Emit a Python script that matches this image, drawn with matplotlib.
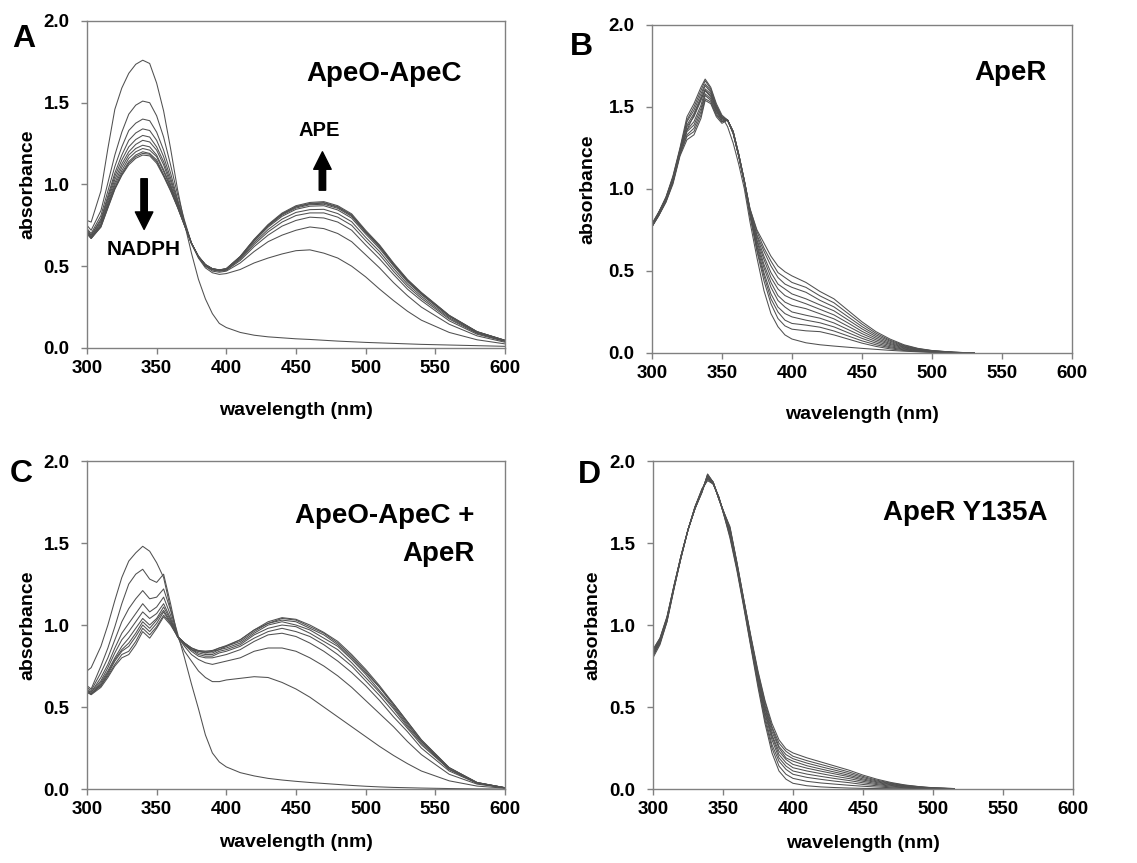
import matplotlib
matplotlib.use('Agg')
import matplotlib.pyplot as plt

plt.rcParams['font.family'] = ['Liberation Sans', 'DejaVu Sans']
plt.rcParams['font.weight'] = 'bold'

# ---- panel A: ApeO-ApeC ----
wl_a = [300, 303, 310, 315, 320, 325, 330, 335, 340, 345, 350, 355, 360,
        365, 370, 375, 380, 385, 390, 395, 400, 410, 420, 430, 440, 450,
        460, 470, 480, 490, 500, 510, 520, 530, 540, 560, 580, 600]
a_spectra = [
    [.78, .77, .96, 1.22, 1.46, 1.59, 1.68, 1.735, 1.76, 1.74, 1.62, 1.45, 1.22,
     .97, .76, .58, .42, .30, .21, .15, .125, .095, .078, .068, .062, .056,
     .052, .047, .042, .038, .034, .031, .028, .025, .022, .018, .014, .01],
    [.75, .72, .84, 1.01, 1.18, 1.32, 1.43, 1.485, 1.51, 1.50, 1.42, 1.29, 1.12,
     .94, .78, .64, .55, .49, .46, .45, .455, .48, .52, .55, .575, .595,
     .60, .58, .55, .50, .435, .36, .29, .225, .17, .095, .05, .025],
    [.73, .70, .81, .96, 1.11, 1.23, 1.33, 1.375, 1.40, 1.39, 1.32, 1.21, 1.07,
     .91, .77, .64, .555, .50, .47, .463, .47, .52, .59, .65, .69, .72,
     .74, .73, .70, .65, .57, .49, .40, .32, .25, .145, .074, .035],
    [.72, .69, .79, .93, 1.07, 1.18, 1.27, 1.315, 1.34, 1.33, 1.27, 1.17, 1.04,
     .90, .76, .64, .557, .50, .477, .469, .475, .535, .62, .69, .745, .78,
     .80, .795, .77, .72, .63, .545, .45, .36, .29, .166, .084, .040],
    [.72, .69, .78, .915, 1.05, 1.15, 1.23, 1.275, 1.30, 1.29, 1.23, 1.14, 1.02,
     .89, .76, .64, .558, .506, .48, .472, .478, .542, .633, .71, .77, .81,
     .826, .826, .80, .75, .657, .571, .469, .377, .303, .177, .089, .042],
    [.71, .68, .77, .90, 1.03, 1.125, 1.20, 1.245, 1.27, 1.26, 1.21, 1.12, 1.00,
     .88, .76, .64, .559, .507, .481, .474, .48, .548, .643, .724, .788, .829,
     .846, .848, .822, .772, .677, .59, .486, .391, .315, .184, .093, .044],
    [.71, .68, .76, .885, 1.01, 1.105, 1.18, 1.22, 1.24, 1.23, 1.18, 1.09, .99,
     .87, .755, .64, .559, .508, .483, .476, .483, .554, .653, .739, .805, .848,
     .867, .87, .844, .794, .697, .608, .502, .404, .326, .192, .096, .045],
    [.705, .675, .75, .875, .995, 1.085, 1.16, 1.20, 1.22, 1.21, 1.17, 1.08, .98,
     .87, .75, .64, .56, .509, .484, .477, .484, .556, .658, .745, .813, .856,
     .876, .879, .854, .804, .706, .617, .509, .41, .332, .195, .098, .046],
    [.70, .67, .75, .865, .98, 1.07, 1.14, 1.18, 1.20, 1.19, 1.15, 1.06, .97,
     .865, .75, .64, .56, .509, .484, .477, .484, .558, .661, .749, .818, .862,
     .881, .886, .86, .81, .711, .622, .513, .414, .335, .197, .099, .046],
    [.70, .67, .74, .86, .975, 1.06, 1.13, 1.17, 1.19, 1.185, 1.14, 1.055, .965,
     .86, .75, .64, .56, .51, .485, .477, .484, .559, .662, .751, .82, .865,
     .884, .889, .864, .814, .714, .625, .515, .416, .337, .198, .099, .047],
    [.70, .67, .74, .855, .97, 1.055, 1.12, 1.16, 1.18, 1.175, 1.13, 1.05, .96,
     .86, .75, .64, .56, .51, .485, .478, .485, .56, .665, .755, .825, .87,
     .89, .895, .87, .82, .72, .63, .52, .42, .34, .20, .10, .047],
]

# ---- panel B: ApeR ----
wl_b = [300, 305, 310, 315, 320, 325, 330, 335, 338, 342, 346, 350, 354,
        358, 362, 366, 370, 375, 380, 385, 390, 395, 400, 410, 420, 430,
        440, 450, 460, 470, 480, 490, 500, 515, 530]
b_spectra = [
    [.79, .86, .94, 1.07, 1.22, 1.36, 1.45, 1.55, 1.60, 1.57, 1.50, 1.44, 1.38,
     1.28, 1.15, 1.00, .80, .58, .38, .24, .16, .11, .085, .062, .05, .042,
     .035, .028, .022, .016, .011, .007, .004, .002, 0],
    [.77, .84, .92, 1.03, 1.20, 1.30, 1.33, 1.43, 1.54, 1.52, 1.44, 1.40, 1.42,
     1.34, 1.20, 1.04, .84, .62, .44, .30, .21, .165, .145, .135, .13, .11,
     .085, .06, .04, .025, .015, .009, .005, .002, 0],
    [.77, .84, .92, 1.04, 1.21, 1.32, 1.35, 1.45, 1.55, 1.53, 1.45, 1.41, 1.42,
     1.34, 1.20, 1.04, .84, .63, .47, .33, .25, .20, .18, .17, .157, .134,
     .104, .074, .05, .032, .019, .011, .006, .002, 0],
    [.77, .84, .93, 1.04, 1.21, 1.33, 1.37, 1.47, 1.57, 1.54, 1.46, 1.41, 1.42,
     1.34, 1.20, 1.04, .85, .65, .49, .36, .28, .24, .22, .20, .184, .159,
     .124, .089, .06, .038, .023, .013, .007, .003, 0],
    [.77, .85, .93, 1.05, 1.22, 1.35, 1.39, 1.49, 1.58, 1.55, 1.47, 1.42, 1.42,
     1.34, 1.20, 1.04, .85, .66, .52, .40, .32, .28, .25, .23, .212, .183,
     .143, .103, .07, .045, .027, .015, .008, .003, 0],
    [.77, .85, .93, 1.05, 1.22, 1.36, 1.41, 1.51, 1.60, 1.56, 1.48, 1.42, 1.42,
     1.34, 1.20, 1.04, .86, .68, .54, .43, .35, .31, .29, .27, .239, .208,
     .163, .118, .08, .052, .031, .017, .009, .003, 0],
    [.78, .85, .94, 1.06, 1.23, 1.38, 1.44, 1.54, 1.61, 1.58, 1.48, 1.43, 1.42,
     1.35, 1.21, 1.05, .86, .69, .57, .46, .39, .35, .33, .30, .266, .232,
     .183, .132, .09, .058, .035, .02, .011, .003, 0],
    [.78, .85, .94, 1.06, 1.23, 1.39, 1.46, 1.56, 1.63, 1.59, 1.49, 1.43, 1.42,
     1.35, 1.21, 1.05, .87, .71, .59, .49, .42, .39, .36, .33, .293, .257,
     .202, .147, .10, .065, .038, .022, .012, .004, 0],
    [.78, .86, .94, 1.07, 1.24, 1.41, 1.48, 1.58, 1.64, 1.60, 1.50, 1.44, 1.42,
     1.35, 1.21, 1.05, .87, .72, .62, .53, .46, .42, .40, .37, .321, .281,
     .221, .161, .11, .072, .042, .024, .013, .004, 0],
    [.78, .86, .95, 1.07, 1.24, 1.42, 1.50, 1.60, 1.66, 1.61, 1.51, 1.44, 1.42,
     1.35, 1.21, 1.05, .88, .74, .64, .56, .49, .46, .43, .40, .348, .306,
     .241, .176, .12, .078, .046, .026, .014, .005, 0],
    [.78, .86, .95, 1.08, 1.25, 1.44, 1.52, 1.62, 1.67, 1.62, 1.52, 1.45, 1.42,
     1.35, 1.21, 1.05, .88, .75, .67, .59, .53, .495, .47, .43, .375, .33,
     .26, .19, .13, .085, .05, .028, .015, .005, 0],
]

# ---- panel C: ApeO-ApeC + ApeR ----
wl_c = [300, 303, 310, 315, 320, 325, 330, 335, 340, 345, 350, 355, 360,
        365, 370, 375, 380, 385, 390, 395, 400, 410, 420, 430, 440, 450,
        460, 470, 480, 490, 500, 510, 520, 530, 540, 560, 580, 600]
c_spectra = [
    [.72, .74, .87, 1.00, 1.15, 1.29, 1.39, 1.44, 1.48, 1.45, 1.38, 1.29, 1.10,
     .95, .80, .64, .49, .33, .22, .165, .135, .10, .08, .065, .055, .047,
     .04, .034, .028, .022, .017, .013, .01, .008, .006, .003, .001, 0],
    [.63, .61, .75, .86, .99, 1.13, 1.25, 1.31, 1.34, 1.28, 1.26, 1.31, 1.13,
     .93, .84, .78, .72, .68, .655, .655, .665, .675, .685, .68, .65, .61,
     .56, .50, .44, .38, .32, .26, .205, .155, .11, .05, .018, .005],
    [.62, .60, .71, .80, .91, 1.02, 1.10, 1.16, 1.21, 1.16, 1.17, 1.22, 1.09,
     .93, .87, .82, .79, .77, .76, .77, .78, .80, .84, .86, .86, .84,
     .80, .75, .69, .62, .54, .46, .38, .29, .21, .09, .03, .007],
    [.61, .59, .68, .76, .86, .95, 1.01, 1.07, 1.13, 1.08, 1.11, 1.17, 1.06,
     .93, .88, .84, .81, .80, .80, .81, .82, .85, .90, .94, .95, .93,
     .89, .84, .78, .71, .63, .54, .44, .35, .25, .11, .035, .007],
    [.60, .59, .66, .74, .83, .91, .96, 1.02, 1.08, 1.04, 1.07, 1.13, 1.04,
     .93, .88, .85, .82, .81, .81, .83, .84, .87, .92, .96, .98, .96,
     .93, .88, .82, .75, .66, .57, .47, .37, .27, .12, .036, .007],
    [.60, .58, .65, .72, .80, .87, .92, .98, 1.04, 1.00, 1.04, 1.11, 1.03,
     .93, .89, .85, .83, .82, .82, .84, .85, .88, .94, .98, 1.00, .99,
     .95, .90, .85, .77, .68, .59, .49, .38, .28, .12, .038, .008],
    [.60, .58, .64, .71, .79, .85, .89, .95, 1.02, .98, 1.03, 1.09, 1.02,
     .93, .89, .85, .84, .83, .83, .85, .86, .89, .95, 1.00, 1.02, 1.00,
     .97, .92, .87, .79, .70, .60, .50, .39, .29, .12, .038, .008],
    [.59, .58, .63, .70, .78, .84, .87, .93, 1.00, .96, 1.01, 1.08, 1.01,
     .93, .89, .86, .84, .83, .84, .85, .87, .90, .96, 1.01, 1.03, 1.02,
     .98, .94, .88, .80, .71, .62, .51, .40, .29, .13, .039, .008],
    [.59, .58, .63, .69, .76, .82, .84, .90, .98, .94, .99, 1.06, 1.01,
     .93, .89, .86, .84, .84, .84, .86, .87, .91, .97, 1.01, 1.04, 1.03,
     .99, .95, .89, .81, .72, .62, .52, .41, .30, .13, .040, .008],
    [.59, .575, .62, .68, .75, .80, .82, .88, .96, .92, .98, 1.05, 1.00,
     .93, .89, .86, .845, .84, .845, .86, .875, .91, .97, 1.02, 1.045, 1.035,
     1.00, .955, .90, .82, .73, .63, .52, .41, .30, .13, .04, .008],
]

# ---- panel D: ApeR Y135A ----
wl_d = [300, 305, 310, 315, 320, 325, 330, 335, 339, 343, 347, 351, 355,
        360, 365, 370, 375, 380, 385, 390, 395, 400, 410, 420, 430, 440,
        450, 460, 470, 480, 490, 500, 515]
d_spectra = [
    [.80, .88, 1.02, 1.22, 1.41, 1.58, 1.72, 1.83, 1.88, 1.86, 1.78, 1.66, 1.53,
     1.33, 1.10, .86, .62, .40, .22, .11, .06, .035, .02, .013, .009, .006,
     .004, .003, .002, .001, .001, 0, 0],
    [.81, .89, 1.02, 1.22, 1.41, 1.58, 1.72, 1.83, 1.89, 1.86, 1.78, 1.66, 1.54,
     1.34, 1.11, .87, .64, .42, .25, .14, .09, .065, .047, .037, .03, .023,
     .017, .012, .008, .005, .003, .001, .0005],
    [.82, .89, 1.03, 1.23, 1.41, 1.58, 1.72, 1.82, 1.89, 1.86, 1.78, 1.67, 1.55,
     1.35, 1.12, .88, .65, .44, .27, .17, .12, .09, .071, .059, .048, .039,
     .028, .02, .013, .008, .005, .002, .001],
    [.82, .90, 1.03, 1.23, 1.41, 1.58, 1.72, 1.82, 1.90, 1.86, 1.78, 1.67, 1.56,
     1.35, 1.12, .89, .66, .46, .30, .19, .14, .11, .091, .077, .064, .052,
     .038, .027, .018, .011, .007, .003, .001],
    [.83, .90, 1.04, 1.23, 1.41, 1.58, 1.71, 1.82, 1.90, 1.87, 1.78, 1.67, 1.57,
     1.36, 1.13, .90, .67, .47, .32, .21, .16, .13, .11, .094, .078, .064,
     .047, .033, .022, .014, .008, .004, .002],
    [.83, .91, 1.04, 1.23, 1.42, 1.58, 1.71, 1.82, 1.91, 1.87, 1.77, 1.67, 1.57,
     1.36, 1.13, .90, .68, .49, .33, .23, .18, .15, .127, .109, .092, .075,
     .055, .039, .026, .016, .010, .005, .002],
    [.84, .91, 1.04, 1.23, 1.42, 1.58, 1.71, 1.82, 1.91, 1.87, 1.77, 1.67, 1.58,
     1.37, 1.14, .91, .69, .50, .35, .25, .19, .17, .142, .122, .103, .084,
     .062, .044, .029, .018, .011, .006, .002],
    [.84, .91, 1.04, 1.24, 1.42, 1.58, 1.71, 1.81, 1.91, 1.87, 1.77, 1.68, 1.59,
     1.37, 1.14, .92, .70, .51, .37, .26, .21, .185, .158, .136, .115, .094,
     .070, .049, .033, .020, .012, .006, .002],
    [.85, .92, 1.05, 1.24, 1.42, 1.58, 1.71, 1.81, 1.92, 1.87, 1.77, 1.68, 1.59,
     1.38, 1.15, .92, .71, .53, .38, .28, .23, .20, .173, .150, .127, .104,
     .077, .054, .036, .023, .014, .007, .003],
    [.85, .92, 1.05, 1.24, 1.42, 1.58, 1.71, 1.81, 1.92, 1.87, 1.77, 1.68, 1.60,
     1.38, 1.15, .93, .72, .54, .40, .30, .245, .22, .19, .165, .14, .115,
     .085, .06, .04, .025, .015, .008, .003],
]

line_col = '#505050'
frame_col = '#808080'

fig = plt.figure(figsize=(11.37, 8.63), dpi=100)


def make_panel(rect, wl, spectra, xlab_y, ylab_x):
    ax = fig.add_axes(rect)
    for spec in spectra:
        ax.plot(wl, spec, color=line_col, lw=0.75)
    ax.set_xlim(300, 600)
    ax.set_ylim(0, 2.0)
    ax.set_xticks(range(300, 601, 50))
    ax.set_yticks([0, 0.5, 1.0, 1.5, 2.0])
    ax.set_yticklabels(['0.0', '0.5', '1.0', '1.5', '2.0'])
    for sp in ax.spines.values():
        sp.set_color(frame_col)
        sp.set_linewidth(1.0)
    ax.tick_params(direction='out', length=4, width=1, color=frame_col,
                   labelsize=13.5)
    ax.tick_params(axis='y', pad=8.5)
    ax.tick_params(axis='x', pad=4.5)
    ax.set_xlabel('wavelength (nm)', fontsize=14, fontweight='bold',
                  va='center')
    ax.set_ylabel('absorbance', fontsize=14, fontweight='bold', va='center')
    ax.xaxis.set_label_coords(0.5, xlab_y)
    ax.yaxis.set_label_coords(ylab_x, 0.5)
    return ax


ax_a = make_panel([0.0765, 0.5968, 0.3676, 0.3789], wl_a, a_spectra,
                  -0.19, -0.142)
ax_b = make_panel([0.5734, 0.5910, 0.3694, 0.3801], wl_b, b_spectra,
                  -0.189, -0.152)
ax_c = make_panel([0.0765, 0.0857, 0.3676, 0.3801], wl_c, c_spectra,
                  -0.162, -0.142)
ax_d = make_panel([0.5743, 0.0857, 0.3694, 0.3801], wl_d, d_spectra,
                  -0.165, -0.143)

title_kw = dict(fontsize=20, fontweight='bold', ha='right', va='center')
ax_a.text(569, 1.675, 'ApeO-ApeC', **title_kw)
ax_b.text(582, 1.71, 'ApeR', **title_kw)
ax_c.text(578, 1.665, 'ApeO-ApeC +', **title_kw)
ax_c.text(578, 1.433, 'ApeR', **title_kw)
ax_d.text(582, 1.683, 'ApeR Y135A', **title_kw)

# arrows and labels in panel A
ax_a.text(467, 1.333, 'APE', fontsize=14.5, fontweight='bold',
          ha='center', va='center')
ax_a.text(341, 0.60, 'NADPH', fontsize=15, fontweight='bold',
          ha='center', va='center')
arrow_kw = dict(arrowstyle='simple,head_width=0.9,head_length=0.9,tail_width=0.33',
                color='black', shrinkA=0, shrinkB=0, mutation_scale=14)
ax_a.annotate('', xy=(341, 0.725), xytext=(341, 1.035), arrowprops=arrow_kw)
ax_a.annotate('', xy=(469, 1.20), xytext=(469, 0.965), arrowprops=arrow_kw)

# panel letters
letter_kw = dict(fontsize=23, fontweight='bold', va='baseline', ha='left')
fig.text(12 / 1137, 1 - 47 / 863, 'A', **letter_kw)
fig.text(570 / 1137, 1 - 55 / 863, 'B', **letter_kw)
fig.text(10 / 1137, 1 - 482 / 863, 'C', **letter_kw)
fig.text(578 / 1137, 1 - 483 / 863, 'D', **letter_kw)

fig.savefig('out.png', dpi=100)
